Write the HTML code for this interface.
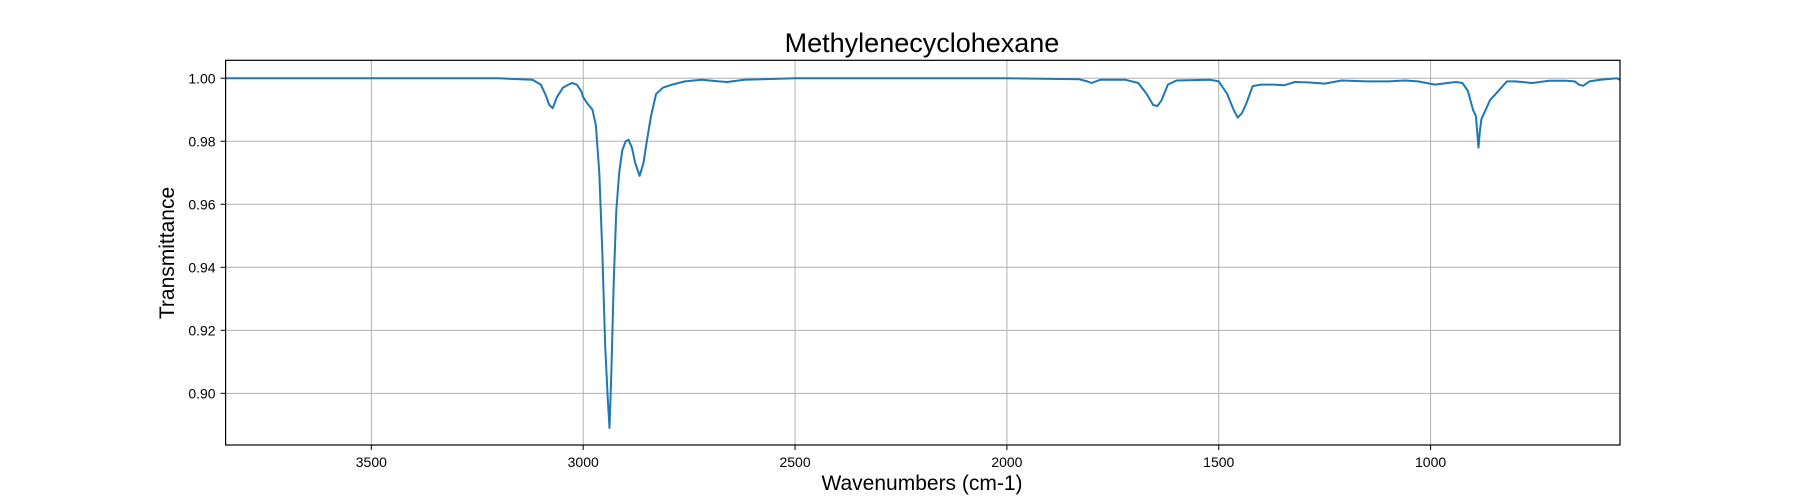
<!DOCTYPE html>
<html><head><meta charset="utf-8"><style>
body{margin:0;background:#fff;}
svg{display:block;font-family:"Liberation Sans",sans-serif;}
</style></head><body>
<svg id="chart" width="1800" height="500" viewBox="0 0 1800 500">
<rect width="1800" height="500" fill="#fff"/>
<text x="922" y="52" text-anchor="middle" font-size="27">Methylenecyclohexane</text>
<g id="grid"></g>
<g id="ticks"></g>
<path id="line" fill="none" stroke="#1f77b4" stroke-width="2" stroke-linejoin="round"/>
<rect x="225.6" y="60.3" width="1394.4" height="384.7" fill="none" stroke="#000" stroke-width="1.2"/>
<text x="922" y="490" text-anchor="middle" font-size="21">Wavenumbers (cm-1)</text>
<text x="0" y="0" transform="translate(174,253) rotate(-90)" text-anchor="middle" font-size="21">Transmittance</text>
</svg>
<script>
const xTicks=[3500,3000,2500,2000,1500,1000];
const yTicks=[0.90,0.92,0.94,0.96,0.98,1.00];
const wavenumbers=[3844,3700,3500,3300,3200,3120,3100,3088,3080,3072,3062,3048,3035,3027,3015,3005,3000,2990,2978,2970,2962,2955,2948,2942,2938,2934,2928,2922,2915,2908,2900,2893,2885,2877,2867,2858,2850,2840,2828,2812,2790,2760,2720,2680,2660,2620,2500,2000,1830,1810,1800,1780,1720,1690,1670,1655,1645,1635,1620,1600,1520,1500,1480,1465,1455,1445,1435,1420,1400,1370,1345,1320,1290,1250,1210,1150,1100,1060,1030,1010,990,960,940,925,912,900,893,890,887,884,880,870,860,840,820,800,760,720,680,660,650,640,625,600,560,553];
const transmittance=[1.000,1.000,1.000,1.000,1.000,0.9995,0.998,0.9945,0.9915,0.9905,0.994,0.997,0.998,0.9985,0.998,0.996,0.994,0.992,0.990,0.985,0.970,0.945,0.915,0.898,0.889,0.905,0.935,0.958,0.970,0.977,0.980,0.9805,0.978,0.973,0.969,0.973,0.980,0.988,0.995,0.997,0.998,0.999,0.9995,0.999,0.9988,0.9995,1.000,1.000,0.9997,0.999,0.9985,0.9995,0.9995,0.9985,0.995,0.9915,0.9912,0.993,0.998,0.9993,0.9995,0.999,0.995,0.990,0.9875,0.989,0.992,0.9975,0.998,0.998,0.9978,0.9988,0.9987,0.9983,0.9993,0.999,0.999,0.9993,0.999,0.9985,0.998,0.9985,0.9988,0.9985,0.996,0.990,0.988,0.983,0.978,0.983,0.987,0.990,0.993,0.996,0.999,0.999,0.9985,0.9992,0.9992,0.999,0.998,0.9976,0.999,0.9995,1.000,0.9995];
const L=225.6,R=1620,T=60.3,B=445;
const xMin=3844,xMax=553,yMin=0.8836,yMax=1.0057;
const xs=v=>L+(xMin-v)/(xMin-xMax)*(R-L);
const ys=v=>B-(v-yMin)/(yMax-yMin)*(B-T);
const NS='http://www.w3.org/2000/svg';
const grid=document.getElementById('grid'),ticks=document.getElementById('ticks');
function mk(tag,attrs,parent,txt){const e=document.createElementNS(NS,tag);for(const k in attrs)e.setAttribute(k,attrs[k]);if(txt!==undefined)e.textContent=txt;parent.appendChild(e);return e;}
xTicks.forEach(v=>{const x=xs(v);
 const g=mk('line',{x1:x,x2:x,y1:T,y2:B,stroke:'#b0b0b0','stroke-width':1},grid);
 
 
 mk('line',{x1:x,x2:x,y1:B,y2:B+5,stroke:'#000'},ticks);
 const t=mk('text',{x:x,y:B+22,'text-anchor':'middle','font-size':14},ticks,String(v));
 
 
});
yTicks.forEach(v=>{const y=ys(v);
 const g=mk('line',{x1:L,x2:R,y1:y,y2:y,stroke:'#b0b0b0','stroke-width':1},grid);
 
 
 mk('line',{x1:L-5,x2:L,y1:y,y2:y,stroke:'#000'},ticks);
 const t=mk('text',{x:L-10,y:y+5,'text-anchor':'end','font-size':14},ticks,v.toFixed(2));
 
 
});
document.getElementById('line').setAttribute('d',wavenumbers.map((w,i)=>(i?'L':'M')+xs(w).toFixed(1)+','+ys(transmittance[i]).toFixed(1)).join(''));
</script>
</body></html>
